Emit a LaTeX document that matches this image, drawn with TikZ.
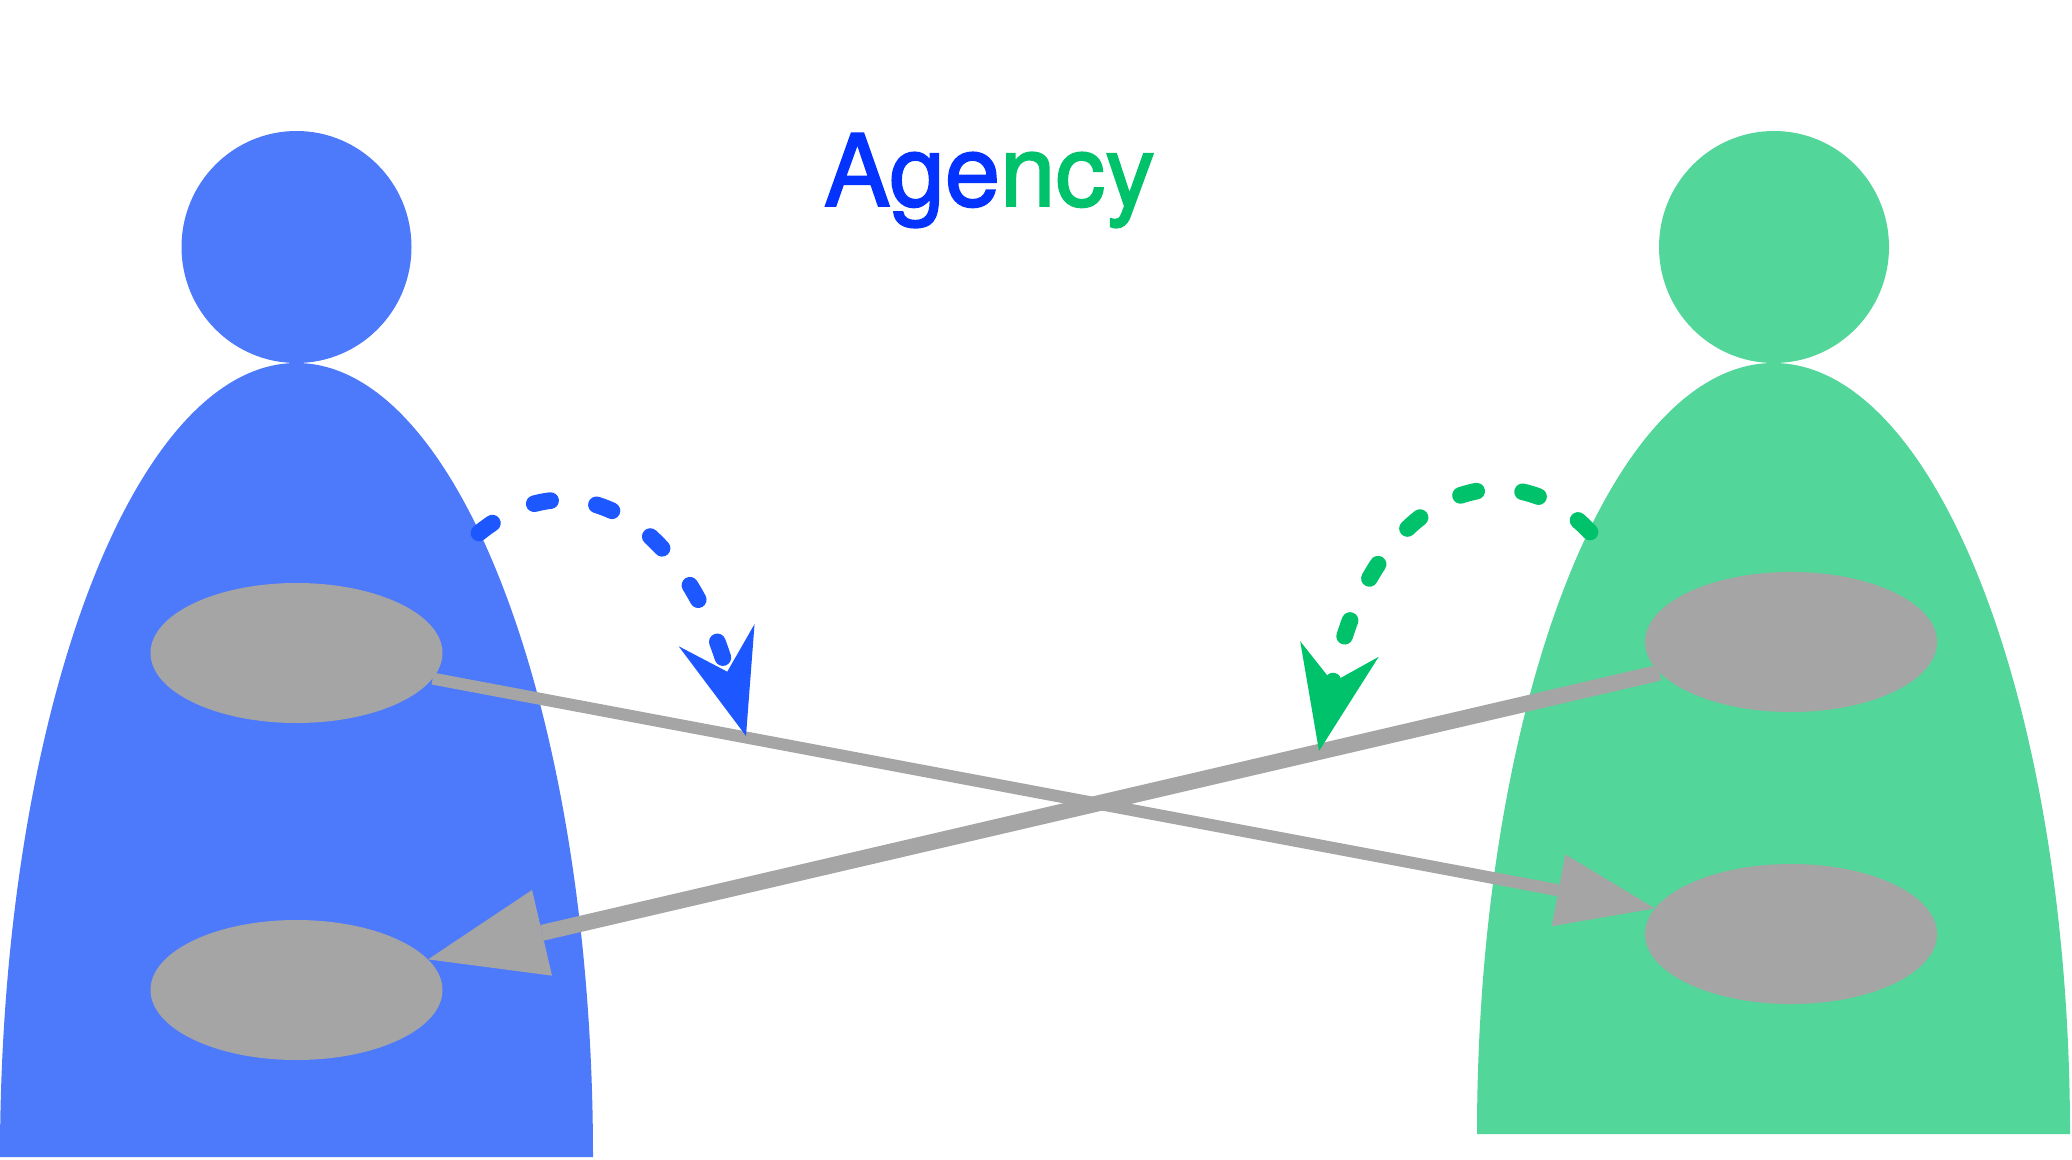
\documentclass[tikz,border=0pt]{standalone}
\usepackage{fontspec}
\setmainfont[FakeBold=1.8]{TeX Gyre Heros}
\usetikzlibrary{arrows.meta,shapes.geometric}
\definecolor{bodyblue}{HTML}{4D79FB}
\definecolor{bodygreen}{HTML}{53D69A}
\definecolor{dashblue}{HTML}{1C57FF}
\definecolor{dashgreen}{HTML}{00C26B}
\definecolor{textblue}{HTML}{0433FF}
\definecolor{beliefgray}{HTML}{A5A5A5}
\tikzset{
  belief/.style={ellipse,fill=beliefgray,inner sep=0pt,minimum width=8.76cm,minimum height=4.2cm},
  thinlink/.style={draw=beliefgray,line width=0.36cm,-{Triangle[length=2.94cm,width=2.19cm,line width=0pt]}},
  thicklink/.style={draw=beliefgray,line width=0.48cm,-{Triangle[length=3.51cm,width=2.64cm,line width=0pt]}},
  agentloop/.style={line width=0.5cm,line cap=round,dash pattern=on 0.5cm off 1.39cm},
}

\begin{document}
\begin{tikzpicture}[x=0.03cm,y=-0.03cm]
  \useasboundingbox (0,0) rectangle (2072,1160);

  % left person
  \fill[bodyblue] (296.5,247) ellipse (115 and 116);
  \fill[bodyblue] (0,1157) arc[start angle=180,end angle=360,x radius=296.5,y radius=794] -- cycle;
  % right person
  \fill[bodygreen] (1774,247) ellipse (115 and 116);
  \fill[bodygreen] (1477,1134) arc[start angle=180,end angle=360,x radius=296.5,y radius=771] -- cycle;

  \node[belief] (lefttop) at (296.5,653) {};
  \node[belief] (leftbot) at (296.5,990) {};
  \node[belief] (righttop) at (1791,642) {};
  \node[belief] (rightbot) at (1791,934) {};

  \draw[thinlink] (lefttop) -- (rightbot);
  \draw[thicklink] (righttop) -- (leftbot);

  \coordinate (bluefrom) at (479,533);
  \coordinate (blueto) at (746,736);
  \coordinate (greenfrom) at (1590,532);
  \coordinate (greento) at (1319,751);

  \draw[agentloop,dashblue,-{Stealth[length=3.15cm,width=2.37cm,inset=1.14cm,line width=0pt]}]
    (bluefrom) .. controls (575,455) and (683,520) .. (blueto);
  \draw[agentloop,dashgreen,-{Stealth[length=3.12cm,width=2.4cm,inset=1.02cm,line width=0pt]}]
    (greenfrom) .. controls (1510,446) and (1372,486) .. (greento);

  \node[anchor=base,inner sep=0pt,font=\fontsize{85pt}{100pt}\selectfont] (title) at (989.5,206)
    {\textcolor{textblue}{Age}\textcolor{dashgreen}{ncy}};
\end{tikzpicture}
\end{document}
